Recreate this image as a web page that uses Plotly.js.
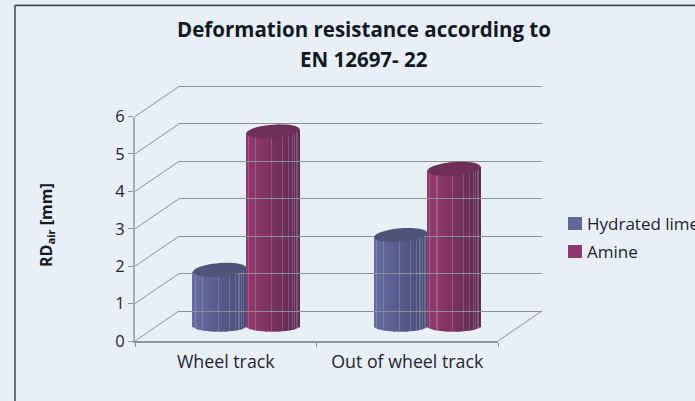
<!DOCTYPE html>
<html>
<head>
<meta charset="utf-8">
<script src="https://cdn.plot.ly/plotly-3.0.1.min.js"></script>
<style>html,body{margin:0;padding:0;background:#e8eff7;overflow:hidden}</style>
</head>
<body>
<div id="chart" style="width:695px;height:401px"></div>
<script>
// ---- data ----
const categories = ["Wheel track", "Out of wheel track"];
const seriesNames = ["Hydrated lime", "Amine"];
const hydratedLime = [1.5, 2.43];
const amine = [5.2, 4.2];
const yTicks = [0, 1, 2, 3, 4, 5, 6];

// ---- styles ----
const swatch = ["#5f6699", "#8c3a6f"];
const capColor = ["#4f5479", "#6e2f58"];
const shadeStops = [["#666da3", "#454b72"], ["#95396f", "#5f2a50"]];
const streaks = [0.05, 0.19, 0.48, 0.69, 0.8, 0.87, 0.93, 0.97];
const font = "'Open Sans', sans-serif";
const W = 695, H = 401;
const px = v => v / W, py = v => 1 - v / H;

// ---- projected frame (pixels) ----
const L = 135, R = 498, Y0 = 341, Y6 = 116.5, DX = 44, DY = 30;
const U = (Y0 - Y6) / 6;

function rgb(c) { return [1, 3, 5].map(i => parseInt(c.slice(i, i + 2), 16)); }
function mix(a, b, t) { return a.map((v, i) => Math.round(v + (b[i] - v) * t)); }
function css(a) { return "rgb(" + a.join(",") + ")"; }

const groupCenter = [0.492, 1.49];
const barW = 0.293;
const capB = 6.8 / U, baseB = 5.6 / U, tilt = 2 / U;   // semi-axes in axis units
const allValues = [hydratedLime, amine];
const traces = [];

// back wall carrier (gridlines)
traces.push({type: "scatter", mode: "none", x: [0, 2], y: [0, 6], xaxis: "x3", yaxis: "y3",
  showlegend: false, hoverinfo: "skip"});
// carrier for the category axis
traces.push({type: "scatter", mode: "none", x: categories, y: [0, 0], xaxis: "x", yaxis: "y",
  showlegend: false, hoverinfo: "skip"});

const capShapes = [];
allValues.forEach((vals, s) => {
  vals.forEach((v, c) => {
    const cx = groupCenter[c] + (s === 0 ? -0.5 : 0.5) * barW;
    const n = 44, sx = [], base = [], hgt = [], cols = [], wid = [];
    for (let i = 0; i < n; i++) {
      const f = (i + 0.5) / n, t = 2 * f - 1;
      const h = baseB * Math.sqrt(1 - t * t);
      sx.push(cx + t * barW / 2);
      base.push(-h);
      hgt.push(v + tilt * t + h);
      wid.push(barW / n * 1.35);
      const streak = streaks.some(q => Math.abs(q - f) < 0.5 / n);
      const col = mix(rgb(shadeStops[s][0]), rgb(shadeStops[s][1]), f);
      cols.push(css(streak ? mix(col, rgb("#c9cde6"), 0.25) : col));
    }
    traces.push({type: "bar", x: sx, y: hgt, base: base, width: wid, xaxis: "x2", yaxis: "y2",
      marker: {color: cols, line: {width: 0}}, showlegend: false, hoverinfo: "skip"});
    const pts = [];
    for (let k = 0; k < 48; k++) {
      const a = k / 48 * 2 * Math.PI;
      pts.push((k ? "L" : "M") + (cx + barW / 2 * Math.cos(a)) + "," +
        (v + capB * Math.sin(a) + tilt * Math.cos(a)));
    }
    capShapes.push({type: "path", xref: "x2", yref: "y2", path: pts.join("") + "Z",
      fillcolor: capColor[s], line: {width: 0}, layer: "above"});
  });
});

// ---- frame + walls ----
const shapes = [];
const line = (x0, y0, x1, y1, color, width, layer) => shapes.push({type: "line", xref: "paper", yref: "paper",
  x0: px(x0), y0: py(y0), x1: px(x1), y1: py(y1), line: {color, width}, layer: layer || "below"});
line(15, 4.5, 695, 4.5, "#c3cad2", 1);
line(15, 5.5, 695, 5.5, "#3f4650", 1.5);
line(15, 5, 15, 401, "#5b626c", 1.8);
yTicks.forEach(v => {
  const y = Y0 - v * U;
  line(L, y, L + DX, y - DY, "#8b9096", 1);
});
line(R, Y0, R + DX, Y0 - DY, "#8b9096", 1);

// ---- legend ----
const annotations = [];
seriesNames.forEach((name, i) => {
  const top = 217 + i * 28;
  shapes.push({type: "rect", xref: "paper", yref: "paper", x0: px(568), x1: px(582), y0: py(top), y1: py(top + 13),
    fillcolor: swatch[i], line: {width: 0}});
  annotations.push({xref: "paper", yref: "paper", x: px(584.5), y: py(top + 6.5), xanchor: "left", yanchor: "middle",
    text: name, showarrow: false, font: {family: font, size: 17, color: "#1d2530"}});
});
annotations.push({xref: "paper", yref: "paper", x: px(364), y: py(59), xanchor: "center", yanchor: "middle",
  text: "<b>EN 12697- 22</b>", showarrow: false, font: {family: font, size: 20.5, color: "#111923"}});
annotations.push({xref: "paper", yref: "paper", x: px(46), y: py(225), xanchor: "center", yanchor: "middle",
  textangle: -90, text: "<b>RD<sub>air</sub> [mm]</b>", showarrow: false,
  font: {family: font, size: 16, color: "#111923"}});

const layout = {
  width: W, height: H,
  margin: {l: 0, r: 0, t: 0, b: 0},
  paper_bgcolor: "#e8eff7", plot_bgcolor: "rgba(0,0,0,0)",
  showlegend: false,
  barmode: "overlay",
  title: {text: "<b>Deformation resistance according to</b>", x: px(364), xanchor: "center",
    y: py(30), yanchor: "middle", font: {family: font, size: 20.5, color: "#111923"}},
  // front plane: category + value axes
  xaxis: {domain: [px(L), px(R)], type: "category", categoryarray: categories, categoryorder: "array",
    range: [-0.5, 1.5], tickson: "boundaries", ticks: "outside", ticklen: 4, tickcolor: "#8b9096",
    showgrid: false, showline: true, linecolor: "#8f959c", linewidth: 1.5, zeroline: false,
    ticklabelstandoff: 4,
    tickfont: {family: font, size: 17.8, color: "#1d2530"}},
  yaxis: {domain: [py(Y0), py(Y6)], range: [0, 6], tickvals: yTicks, ticks: "outside", ticklen: 5,
    tickcolor: "#8f959c", showgrid: false, showline: true, linecolor: "#a4abb3", linewidth: 2, zeroline: false,
    tickfont: {family: font, size: 16.5, color: "#1d2530"}},
  // mid-depth plane carrying the cylinders (extends below 0 for the rounded base)
  xaxis2: {domain: [px(L + DX / 2), px(R + DX / 2)], range: [0, 2], anchor: "y2", visible: false},
  yaxis2: {domain: [py(Y0 - DY / 2 + U), py(Y6 - DY / 2 - U)], range: [-1, 7], anchor: "x2", visible: false},
  // back wall plane carrying the gridlines
  xaxis3: {domain: [px(L + DX), px(R + DX)], range: [0, 2], anchor: "y3", visible: false},
  yaxis3: {domain: [py(Y0 - DY + U), py(Y6 - DY - U)], range: [-1, 7], anchor: "x3", tickvals: yTicks,
    showticklabels: false, ticks: "", showgrid: true, gridcolor: "#8b9096", gridwidth: 1, zeroline: false, showline: false},
  shapes: shapes.concat(capShapes),
  annotations: annotations
};

Plotly.newPlot("chart", traces, layout, {displayModeBar: false, responsive: false});
</script>
</body>
</html>
